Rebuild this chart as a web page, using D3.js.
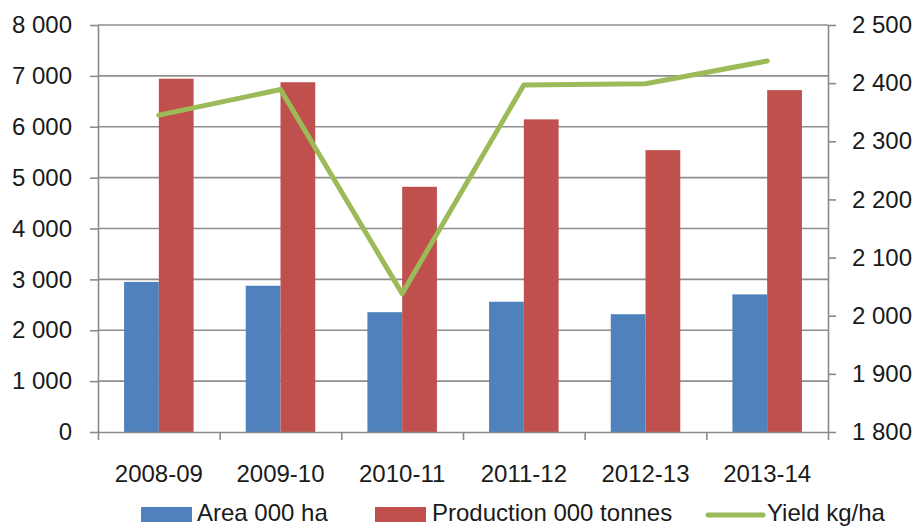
<!DOCTYPE html>
<html>
<head>
<meta charset="utf-8">
<script src="https://cdn.jsdelivr.net/npm/d3@7/dist/d3.min.js"></script>
<style>
  html, body { margin: 0; padding: 0; background: #fff; }
  svg { display: block; font-family: "Liberation Sans", Arial, sans-serif; }
  .axis text { fill: #1a1a1a; font-size: 24px; }
</style>
</head>
<body>
<svg id="chart" width="916" height="526"></svg>
<script>
// Marketing seasons
const seasons = ["2008-09", "2009-10", "2010-11", "2011-12", "2012-13", "2013-14"];
// Area planted, 000 ha
const area = [2950, 2875, 2355, 2560, 2315, 2705];
// Production, 000 tonnes
const production = [6945, 6875, 4820, 6145, 5540, 6720];
// Yield, kg/ha
const yieldKgHa = [2345, 2389, 2038, 2397, 2399, 2438];

const leftTicks = [0, 1000, 2000, 3000, 4000, 5000, 6000, 7000, 8000];
const rightTicks = [1800, 1900, 2000, 2100, 2200, 2300, 2400, 2500];

const seriesNames = ["Area 000 ha", "Production 000 tonnes", "Yield kg/ha"];
const colors = { area: "#4f81bd", production: "#c0504d", yield: "#9bbb59" };

const plot = { left: 98, right: 828, top: 25, bottom: 432 };
const svg = d3.select("#chart");

const fmt = d3.formatLocale({ decimal: ".", thousands: "\u00a0", grouping: [3], currency: ["", ""] }).format(",");

const x0 = d3.scaleBand().domain(seasons).range([plot.left, plot.right]).paddingInner(0).paddingOuter(0);
const x1 = d3.scaleBand().domain(["area", "production"]).range([0, x0.bandwidth()]).paddingInner(0).paddingOuter(0.75);
const yL = d3.scaleLinear().domain([0, 8000]).range([plot.bottom, plot.top]);
const yR = d3.scaleLinear().domain([1800, 2500]).range([plot.bottom, plot.top]);

// horizontal gridlines
svg.append("g")
  .selectAll("line")
  .data(leftTicks.slice(1))
  .join("line")
  .attr("x1", plot.left).attr("x2", plot.right)
  .attr("y1", d => yL(d)).attr("y2", d => yL(d))
  .attr("stroke", "#8e8e8e").attr("stroke-width", 1.6);

// bars
const groups = svg.append("g")
  .selectAll("g")
  .data(seasons.map((s, i) => ({ s, area: area[i], production: production[i] })))
  .join("g")
  .attr("transform", d => `translate(${x0(d.s)},0)`);

groups.selectAll("rect")
  .data(d => ["area", "production"].map(k => ({ k, v: d[k] })))
  .join("rect")
  .attr("x", d => x1(d.k))
  .attr("width", x1.bandwidth())
  .attr("y", d => yL(d.v))
  .attr("height", d => yL(0) - yL(d.v))
  .attr("fill", d => colors[d.k]);

// axes
const axisColor = "#8a8a8a";
function styleAxis(g) {
  g.selectAll(".domain").attr("stroke", axisColor).attr("stroke-width", 1.6);
  g.selectAll(".tick line").attr("stroke", axisColor).attr("stroke-width", 1.6);
}

svg.append("g").attr("class", "axis")
  .attr("transform", `translate(${plot.left},0)`)
  .call(d3.axisLeft(yL).tickValues(leftTicks).tickSize(8).tickSizeOuter(0).tickPadding(18).tickFormat(fmt))
  .call(styleAxis);

svg.append("g").attr("class", "axis")
  .attr("transform", `translate(${plot.right},0)`)
  .call(d3.axisRight(yR).tickValues(rightTicks).tickSize(8).tickSizeOuter(0).tickPadding(16).tickFormat(fmt))
  .call(styleAxis);

// category boundary ticks on the bottom axis
const xb = d3.scaleLinear().domain([0, seasons.length]).range([plot.left, plot.right]);
svg.append("g").attr("class", "axis")
  .attr("transform", `translate(0,${plot.bottom})`)
  .call(d3.axisBottom(xb).tickValues(d3.range(seasons.length + 1)).tickSize(8).tickSizeOuter(0).tickFormat(""))
  .call(styleAxis);

// category labels
svg.append("g").attr("class", "axis")
  .attr("transform", `translate(0,${plot.bottom})`)
  .call(d3.axisBottom(x0).tickSize(0).tickPadding(33))
  .call(g => g.select(".domain").remove());

// yield line on the secondary axis
const line = d3.line()
  .x((d, i) => x0(seasons[i]) + x0.bandwidth() / 2)
  .y(d => yR(d));
svg.append("path")
  .datum(yieldKgHa)
  .attr("d", line)
  .attr("fill", "none")
  .attr("stroke", colors.yield)
  .attr("stroke-width", 5)
  .attr("stroke-linejoin", "round")
  .attr("stroke-linecap", "round");

// legend
const legend = svg.append("g").attr("class", "axis");
const items = [
  { key: "area", x: 141, type: "rect", w: 51, gap: 5 },
  { key: "production", x: 375, type: "rect", w: 51, gap: 6 },
  { key: "yield", x: 708, type: "line", w: 55, gap: 4 }
];
items.forEach((it, i) => {
  if (it.type === "rect") {
    legend.append("rect").attr("x", it.x).attr("y", 507).attr("width", it.w).attr("height", 15).attr("fill", colors[it.key]);
  } else {
    legend.append("line").attr("x1", it.x).attr("x2", it.x + it.w).attr("y1", 515).attr("y2", 515)
      .attr("stroke", colors[it.key]).attr("stroke-width", 5).attr("stroke-linecap", "round");
  }
  legend.append("text").attr("x", it.x + it.w + it.gap).attr("y", 521).text(seriesNames[i]);
});
</script>
</body>
</html>
